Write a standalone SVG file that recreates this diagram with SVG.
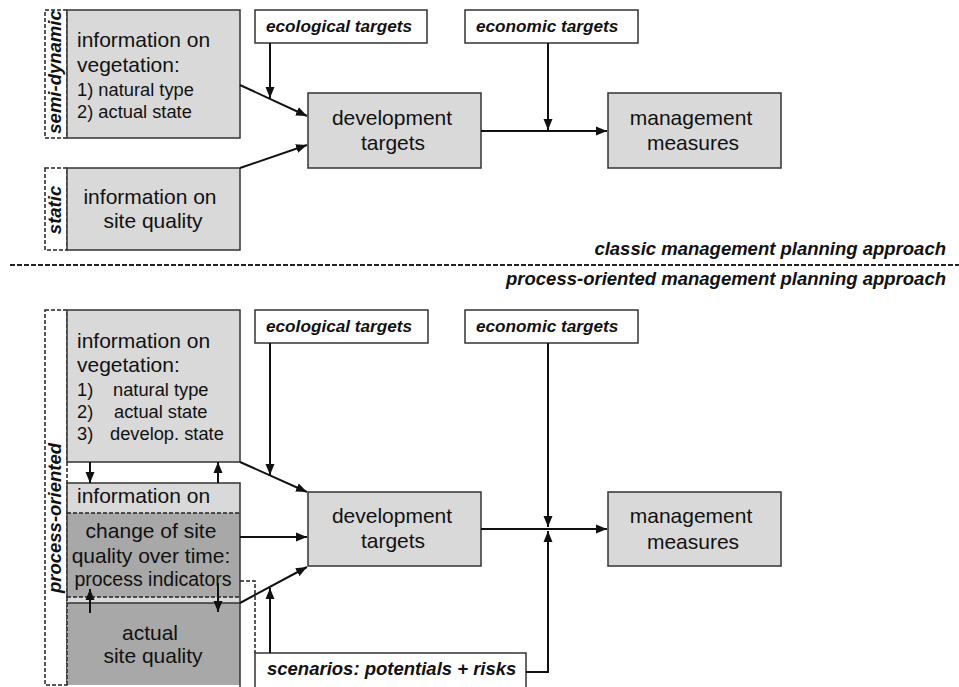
<svg xmlns="http://www.w3.org/2000/svg" width="959" height="687" viewBox="0 0 959 687">
<defs>
<marker id="ah" markerUnits="userSpaceOnUse" markerWidth="12" markerHeight="10" refX="11" refY="5" orient="auto">
<path d="M0,0.5 L11,5 L0,9.5 Z" fill="#111"/>
</marker>
<style>
.box{fill:#d9d9d9;stroke:#333;stroke-width:1.5}
.dark{fill:#a8a8a8}
.light{fill:#d9d9d9}
.wbox{fill:#fff;stroke:#333;stroke-width:1.5}
.dash{fill:#fff;stroke:#222;stroke-width:1.5;stroke-dasharray:4,2}
.dl{fill:none;stroke:#222;stroke-width:1.5;stroke-dasharray:4,2}
.sl{fill:none;stroke:#333;stroke-width:1.5}
.t{font-family:"Liberation Sans",Arial,sans-serif;font-size:21px;fill:#111}
.s{font-family:"Liberation Sans",Arial,sans-serif;font-size:18.3px;fill:#111}
.bi{font-family:"Liberation Sans",Arial,sans-serif;font-size:17.2px;font-weight:bold;font-style:italic;fill:#111}
.bl{font-family:"Liberation Sans",Arial,sans-serif;font-size:18.5px;font-weight:bold;font-style:italic;fill:#111}
.c{text-anchor:middle}
.conn line,.conn path{stroke:#111;stroke-width:2;fill:none}
</style>
</defs>

<!-- TOP: classic -->
<g id="semi-dynamic">
<rect class="dash" x="45" y="10" width="22" height="128"/>
<text class="bl c" transform="translate(61,72) rotate(-90)">semi-dynamic</text>
</g>
<g id="veg-top">
<rect class="box" x="67" y="10" width="173" height="128"/>
<text class="t" x="77" y="47">information on</text>
<text class="t" x="77" y="72">vegetation:</text>
<text class="s" x="77" y="96">1) natural type</text>
<text class="s" x="77" y="118">2) actual state</text>
</g>
<g id="static">
<rect class="dash" x="45" y="168" width="22" height="82"/>
<text class="bl c" transform="translate(61,210) rotate(-90)">static</text>
</g>
<g id="site-top">
<rect class="box" x="67" y="168" width="173" height="82"/>
<text class="t c" x="150" y="204">information on</text>
<text class="t c" x="153" y="228">site quality</text>
</g>
<g id="eco-top">
<rect class="wbox" x="255" y="10" width="172" height="33"/>
<text class="bi" x="266" y="32">ecological targets</text>
</g>
<g id="econ-top">
<rect class="wbox" x="465" y="10" width="173" height="33"/>
<text class="bi" x="476" y="32">economic targets</text>
</g>
<g id="dev-top">
<rect class="box" x="308" y="93" width="173" height="75"/>
<text class="t c" x="392" y="125">development</text>
<text class="t c" x="393" y="150">targets</text>
</g>
<g id="mgmt-top">
<rect class="box" x="608" y="93" width="173" height="75"/>
<text class="t c" x="691" y="125">management</text>
<text class="t c" x="693" y="150">measures</text>
</g>

<!-- separator -->
<g id="separator">
<line x1="10" y1="265" x2="959" y2="265" stroke="#222" stroke-width="2" stroke-dasharray="5,2"/>
<text class="bl" x="946" y="255" text-anchor="end">classic management planning approach</text>
<text class="bl" x="946" y="285" text-anchor="end">process-oriented management planning approach</text>
</g>

<!-- BOTTOM: process-oriented -->
<g id="process-oriented">
<rect class="dash" x="45" y="310" width="22" height="375"/>
<text class="bl c" transform="translate(61,518) rotate(-90)">process-oriented</text>
</g>
<g id="veg-bottom">
<rect class="box" x="67" y="310" width="173" height="152"/>
<text class="t" x="77" y="348">information on</text>
<text class="t" x="77" y="372">vegetation:</text>
<text class="s" x="77" y="396">1)</text><text class="s" x="113" y="396">natural type</text>
<text class="s" x="77" y="418">2)</text><text class="s" x="114" y="418">actual state</text>
<text class="s" x="77" y="440">3)</text><text class="s" x="110" y="440">develop. state</text>
</g>
<g id="site-stack">
<rect class="light" x="67" y="483" width="173" height="30"/>
<rect class="dark" x="67" y="513" width="173" height="84"/>
<rect class="light" x="67" y="597" width="173" height="6"/>
<rect class="dark" x="67" y="603" width="173" height="82"/>
<path class="sl" d="M67,597 V483 H240 V687"/>
<line class="dl" x1="67" y1="597" x2="67" y2="687"/>
<line class="dl" x1="67" y1="513" x2="240" y2="513"/>
<line class="dl" x1="67" y1="597" x2="240" y2="597"/>
<line class="sl" x1="67" y1="603" x2="240" y2="603"/>
<path class="dl" d="M240,581 H255 V653"/>
<text class="t" x="77" y="503">information on</text>
<text class="t c" x="151" y="538">change of site</text>
<text class="t c" x="151" y="563">quality over time:</text>
<text class="s c" x="153" y="586" style="font-size:19.5px">process indicators</text>
<text class="t c" x="150" y="640">actual</text>
<text class="t c" x="153" y="663">site quality</text>
</g>
<g id="eco-bottom">
<rect class="wbox" x="255" y="310" width="173" height="33"/>
<text class="bi" x="266" y="332">ecological targets</text>
</g>
<g id="econ-bottom">
<rect class="wbox" x="465" y="310" width="173" height="33"/>
<text class="bi" x="476" y="332">economic targets</text>
</g>
<g id="dev-bottom">
<rect class="box" x="308" y="492" width="173" height="74"/>
<text class="t c" x="392" y="523">development</text>
<text class="t c" x="393" y="548">targets</text>
</g>
<g id="mgmt-bottom">
<rect class="box" x="608" y="492" width="173" height="74"/>
<text class="t c" x="691" y="523">management</text>
<text class="t c" x="693" y="549">measures</text>
</g>
<g id="scenarios">
<rect class="wbox" x="255" y="653" width="271" height="40"/>
<text class="bl" x="267" y="675">scenarios: potentials + risks</text>
</g>

<g id="connectors" class="conn">
<!-- top -->
<line x1="240" y1="85" x2="307" y2="116" marker-end="url(#ah)"/>
<line x1="270" y1="43" x2="270" y2="98" marker-end="url(#ah)"/>
<line x1="240" y1="168" x2="307" y2="145" marker-end="url(#ah)"/>
<line x1="481" y1="131" x2="607" y2="131" marker-end="url(#ah)"/>
<line x1="548" y1="43" x2="548" y2="130" marker-end="url(#ah)"/>
<!-- bottom -->
<line x1="90" y1="462" x2="90" y2="483" marker-end="url(#ah)"/>
<line x1="218" y1="483" x2="218" y2="462" marker-end="url(#ah)"/>
<line x1="90" y1="613" x2="90" y2="589" marker-end="url(#ah)"/>
<line x1="218" y1="583" x2="218" y2="612" marker-end="url(#ah)"/>
<line x1="240" y1="462" x2="307" y2="492" marker-end="url(#ah)"/>
<line x1="270" y1="343" x2="270" y2="475" marker-end="url(#ah)"/>
<line x1="240" y1="537" x2="307" y2="537" marker-end="url(#ah)"/>
<line x1="240" y1="603" x2="307" y2="567" marker-end="url(#ah)"/>
<line x1="270" y1="653" x2="270" y2="588" marker-end="url(#ah)"/>
<line x1="481" y1="529" x2="607" y2="529" marker-end="url(#ah)"/>
<line x1="548" y1="343" x2="548" y2="527" marker-end="url(#ah)"/>
<path d="M526,672 H548 V531" marker-end="url(#ah)"/>
</g>
</svg>
